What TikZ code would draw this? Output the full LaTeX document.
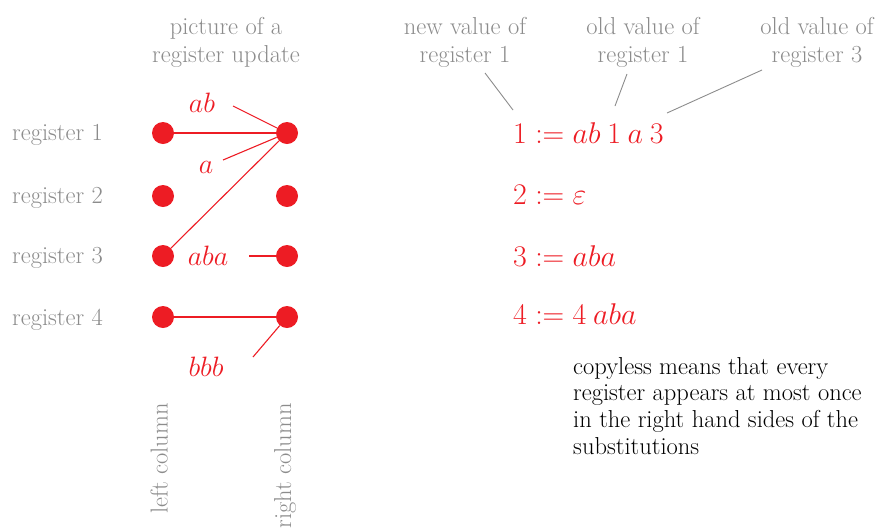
\RequirePackage{fix-cm}
\documentclass[tikz,border=0pt]{standalone}
\usepackage{fontspec}
\usetikzlibrary{positioning}
\definecolor{regred}{RGB}{237,28,36}
\definecolor{notegray}{RGB}{140,140,140}

\begin{document}
\begin{tikzpicture}[x=1pt, y=-1pt,
  note/.style={text=notegray, font=\fontsize{24.5}{28}\selectfont, align=center, inner sep=0pt},
  regdot/.style={circle, fill=regred, inner sep=0pt, minimum size=22pt},
  wire/.style={draw=regred, line width=1.1pt},
  word/.style={text=regred, font=\fontsize{28}{32}\selectfont, inner sep=0pt},
  subst/.style={text=regred, font=\fontsize{30}{36}\selectfont, anchor=base west, inner sep=0pt},
  pointer/.style={draw=notegray, line width=0.9pt}
  ]
\useasboundingbox (0,0) rectangle (880,531);
\clip (0,0) rectangle (880,531);

% Picture of the register update
\node[note, anchor=north] (title) at (226,17) {picture of a\\register update};

\node[note, anchor=west] (reg1) at (12,135) {register 1};
\node[note, anchor=west] (reg2) at (12,198) {register 2};
\node[note, anchor=west] (reg3) at (12,258) {register 3};
\node[note, anchor=west] (reg4) at (12,320) {register 4};

\node[regdot] (l1) at (163,133) {};
\node[regdot] (l2) at (163,196) {};
\node[regdot] (l3) at (163,256) {};
\node[regdot] (l4) at (163,317) {};
\node[regdot] (r1) at (287,133) {};
\node[regdot] (r2) at (287,196) {};
\node[regdot] (r3) at (287,256) {};
\node[regdot] (r4) at (287,317) {};

\draw[wire] (l1) -- (r1);
\draw[wire] (l3) -- (r1);
\draw[wire] (l4) -- (r4);

\node[word] (wab) at (202,103) {$ab$};
\coordinate (wabend) at (233,106);
\draw[wire] (wabend) -- (r1);
\node[word] (wa) at (206,167) {$a$};
\coordinate (waend) at (223,160);
\draw[wire] (waend) -- (r1);
\node[word] (waba) at (208,256) {$aba$};
\coordinate (wabaend) at (249,256);
\draw[wire] (wabaend) -- (r3);
\node[word] (wbbb) at (206,367) {$bbb$};
\coordinate (wbbbend) at (253,357);
\draw[wire] (r4) -- (wbbbend);

\node[note, rotate=90, anchor=east] (lcol) at (159,403) {left column};
\node[note, rotate=90, anchor=east] (rcol) at (285,403) {right column};

% Substitutions
\node[note, anchor=north] (newval) at (465,17) {new value of\\register 1};
\node[note, anchor=north] (oldval1) at (643,17) {old value of\\register 1};
\node[note, anchor=north] (oldval3) at (817,17) {old value of\\register 3};

\node[subst] (s1) at (513,143) {$1 := ab\:1\:a\:3$};
\node[subst] (s2) at (513,204) {$2 := \varepsilon$};
\node[subst] (s3) at (513,266) {$3 := aba$};
\node[subst] (s4) at (513,324) {$4 := 4\:aba$};

\coordinate (p1a) at (485,73);
\coordinate (p1b) at (513,110);
\draw[pointer] (p1a) -- (p1b);
\coordinate (p2a) at (627,74);
\coordinate (p2b) at (615,106);
\draw[pointer] (p2a) -- (p2b);
\coordinate (p3a) at (762,70);
\coordinate (p3b) at (667,113);
\draw[pointer] (p3a) -- (p3b);

\node[anchor=north west, align=left, inner sep=0pt, font=\fontsize{24.5}{26.7}\selectfont] (remark) at (573,357)
  {copyless means that every\\register appears at most once\\in the right hand sides of the\\substitutions};

\end{tikzpicture}
\end{document}
